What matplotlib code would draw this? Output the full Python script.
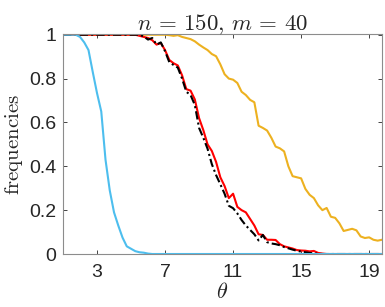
import numpy as np
import matplotlib
matplotlib.use("Agg")
import matplotlib.pyplot as plt

theta = np.arange(1.0, 19.76, 0.25)

blue = [1, 1, 1, 1, 0.99, 0.965, 0.93, 0.83, 0.734, 0.65, 0.43, 0.29, 0.19, 0.13, 0.075, 0.035,
        0.024, 0.013, 0.008, 0.006, 0.002] + [0] * 55

red = [1] * 18 + [0.995, 0.99, 0.985, 0.975, 0.955, 0.962, 0.93, 0.885, 0.87, 0.86, 0.815, 0.752,
       0.745, 0.705, 0.62, 0.565, 0.5, 0.47, 0.42, 0.35, 0.31, 0.255, 0.275, 0.215, 0.2, 0.19,
       0.16, 0.13, 0.09, 0.087, 0.065, 0.065, 0.064, 0.045, 0.035, 0.03, 0.025, 0.018, 0.016,
       0.015, 0.012, 0.014, 0.005, 0.002] + [0] * 14

black = [1] * 19 + [0.992, 0.978, 0.985, 0.955, 0.965, 0.925, 0.875, 0.862, 0.85, 0.8, 0.74,
         0.725, 0.68, 0.575, 0.53, 0.48, 0.41, 0.36, 0.318, 0.275, 0.22, 0.209, 0.185, 0.155,
         0.13, 0.11, 0.09, 0.062, 0.087, 0.054, 0.048, 0.045, 0.04, 0.032, 0.026, 0.02, 0.015,
         0.011, 0.008, 0.005, 0.003, 0.001] + [0] * 15

yellow = [1] * 25 + [0.998, 0.995, 0.998, 0.99, 0.985, 0.98, 0.97, 0.955, 0.942, 0.93, 0.912,
         0.902, 0.865, 0.82, 0.8, 0.795, 0.78, 0.74, 0.725, 0.703, 0.692, 0.585, 0.575, 0.563,
         0.53, 0.49, 0.482, 0.468, 0.4, 0.355, 0.35, 0.345, 0.297, 0.27, 0.255, 0.222, 0.2,
         0.21, 0.17, 0.165, 0.14, 0.105, 0.11, 0.115, 0.108, 0.08, 0.073, 0.076, 0.065, 0.061,
         0.065]

xticks = [3, 7, 11, 15, 19]
yticks = [0, 0.2, 0.4, 0.6, 0.8, 1]
yticklabels = ["0", "0.2", "0.4", "0.6", "0.8", "1"]

plt.rcParams['mathtext.fontset'] = 'cm'
plt.rcParams['font.family'] = ['Liberation Sans', 'DejaVu Sans']

fig = plt.figure(figsize=(3.85, 3.07), dpi=100)
ax = fig.add_axes([0.1636, 0.1726, 0.8284, 0.7164])

ax.plot(theta, yellow, color='#EDB120', lw=1.5)
ax.plot(theta, red, color='#FF0000', lw=1.5)
ax.plot(theta, black, color='black', lw=1.5, ls=(0, (4, 1.5, 1, 1.5)))
ax.plot(theta, blue, color='#4DBEEE', lw=1.5)

ax.set_xlim(1, 19.75)
ax.set_ylim(0, 1.003)
ax.set_xticks(xticks)
ax.set_xticklabels([str(t) for t in xticks])
ax.set_yticks(yticks)
ax.set_yticklabels(yticklabels)
ax.tick_params(direction='in', length=3, width=0.6, top=True, right=True,
               labelsize=14, colors='#262626')
ax.tick_params(axis='x', pad=7)
ax.tick_params(axis='y', pad=5)
for s in ax.spines.values():
    s.set_color('#8c8c8c')
    s.set_linewidth(0.8)

ax.set_title(r'$n\,=\,150,\,m\,=\,40$', fontsize=16.5, pad=3, color='#262626')
ax.set_xlabel(r'$\theta$', fontsize=16, labelpad=1, color='#262626')
ax.set_ylabel(r'$\mathrm{frequencies}$', fontsize=15, labelpad=3, color='#262626')

fig.savefig('out.png', dpi=100)
